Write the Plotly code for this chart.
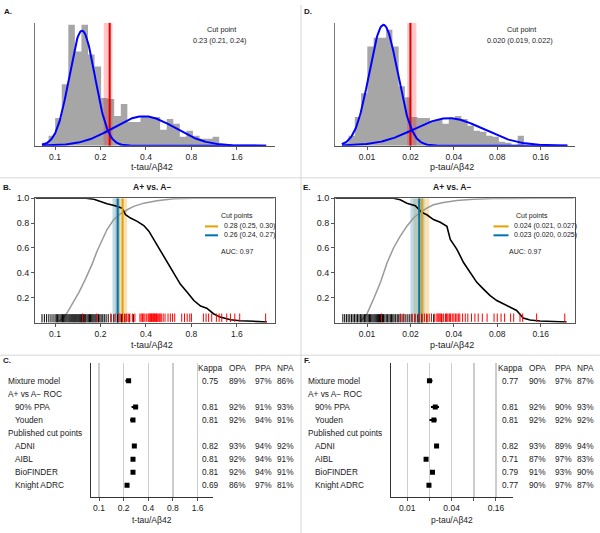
import numpy as np
import plotly.graph_objects as go

W, H = 600, 533
FONT = "Liberation Sans, Arial, sans-serif"
TXT = "#1a1a1a"

# ---------------- data ----------------
# Panel A: t-tau/Aβ42 histogram (bins of width 0.1 on natural-log scale)
A_BIN_START_LN = -2.5
A_BIN_WIDTH_LN = 0.1
A_COUNTS = [3, 10, 28, 62, 122, 95, 122, 92, 80, 48, 47, 30, 42, 24, 24, 29, 29, 29,
            16, 27, 22, 9, 15, 10, 7, 7, 9]
A_COMP_CENTER = [0.151, 0.387]
A_COMP_SDLN = [0.195, 0.47]
A_COMP_PEAK = [116, 29.7]
A_CUT = 0.23
A_CUT_CI = [0.21, 0.24]

# Panel D: p-tau/Aβ42 histogram
D_BIN_START_LN = -5.0
D_BIN_WIDTH_LN = 0.1
D_COUNTS = [3, 10, 29, 53, 100, 109, 109, 117, 100, 60, 49, 29, 28, 28, 25, 27, 22, 27,
            30, 27, 20, 15, 14, 10, 9, 4, 3, 1, 10]
D_COMP_CENTER = [0.0130, 0.0368]
D_COMP_SDLN = [0.225, 0.55]
D_COMP_PEAK = [122, 27.7]
D_CUT = 0.020
D_CUT_CI = [0.019, 0.022]

# Panel B: ROC-type curves for t-tau/Aβ42
B_SPEC_X = [0.106, 0.112, 0.121, 0.130, 0.144, 0.159, 0.176, 0.190, 0.205, 0.221, 0.245,
            0.271, 0.300, 0.332, 0.387, 0.473, 0.61, 0.83, 2.8]
B_SPEC_Y = [0.01, 0.03, 0.085, 0.15, 0.244, 0.35, 0.47, 0.576, 0.668, 0.748, 0.828,
            0.875, 0.907, 0.934, 0.96, 0.98, 0.995, 1.0, 1.0]
B_SENS_X = [0.0746, 0.16, 0.181, 0.2, 0.221, 0.25, 0.278, 0.293, 0.316, 0.35, 0.387, 0.418,
            0.45, 0.499, 0.553, 0.61, 0.675, 0.75, 0.83, 0.92, 1.01, 1.12, 1.24, 1.45,
            1.68, 2.07, 2.53]
B_SENS_Y = [1.0, 1.0, 0.992, 0.973, 0.955, 0.939, 0.92, 0.867, 0.84, 0.814, 0.78, 0.735,
            0.668, 0.576, 0.483, 0.39, 0.31, 0.244, 0.178, 0.133, 0.117, 0.072, 0.045,
            0.024, 0.016, 0.011, 0.005]
B_NEG_RUG = [0.082, 0.085, 0.088, 0.091, 0.094, 0.097, 0.1, 0.102, 0.104, 0.106, 0.108,
             0.11, 0.112, 0.114, 0.116, 0.118, 0.12, 0.122, 0.124, 0.126, 0.128, 0.13,
             0.132, 0.134, 0.136, 0.138, 0.14, 0.142, 0.144, 0.146, 0.148, 0.15, 0.152,
             0.154, 0.156, 0.158, 0.16, 0.163, 0.166, 0.169, 0.172, 0.175, 0.178, 0.181,
             0.184, 0.187, 0.19, 0.194, 0.198, 0.202, 0.207, 0.212, 0.218, 0.225, 0.235,
             0.245, 0.26, 0.275, 0.29, 0.31, 0.33]
B_POS_RUG = [0.152, 0.189, 0.234, 0.25, 0.265, 0.27, 0.28, 0.29, 0.298, 0.305, 0.313,
             0.325, 0.338, 0.365, 0.372, 0.38, 0.387, 0.394, 0.405, 0.414, 0.42, 0.425,
             0.43, 0.435, 0.44, 0.445, 0.45, 0.455, 0.46, 0.465, 0.47, 0.475, 0.482, 0.49,
             0.497, 0.505, 0.52, 0.535, 0.56, 0.58, 0.6, 0.62, 0.69, 0.72, 0.75, 0.78,
             0.8, 0.96, 1.0, 1.04, 1.09, 1.17, 1.22, 1.27, 1.37, 1.45, 1.55, 1.67, 2.48]
B_CUTS = [0.28, 0.26]
B_CUT_LO = [0.25, 0.24]
B_CUT_HI = [0.30, 0.27]
B_CUT_LABELS = ["0.28 (0.25, 0.30)", "0.26 (0.24, 0.27)"]

# Panel E: ROC-type curves for p-tau/Aβ42
E_SPEC_X = [0.009, 0.01, 0.0111, 0.0124, 0.0138, 0.0153, 0.017, 0.0189, 0.021, 0.0234,
            0.026, 0.0289, 0.0339, 0.042, 0.0548, 0.0752, 0.1426, 0.27]
E_SPEC_Y = [0.01, 0.072, 0.19, 0.324, 0.483, 0.602, 0.695, 0.775, 0.841, 0.886, 0.92,
            0.947, 0.966, 0.981, 0.992, 0.997, 1.0, 1.0]
E_SENS_X = [0.00604, 0.0153, 0.017, 0.0189, 0.0216, 0.024, 0.026, 0.0289, 0.0322, 0.0358,
            0.0378, 0.042, 0.0467, 0.0519, 0.0577, 0.0642, 0.0714, 0.0794, 0.0883, 0.0982,
            0.109, 0.121, 0.135, 0.158, 0.242]
E_SENS_Y = [1.0, 1.0, 0.987, 0.96, 0.939, 0.886, 0.867, 0.828, 0.806, 0.775, 0.668, 0.589,
            0.483, 0.403, 0.324, 0.27, 0.218, 0.178, 0.151, 0.125, 0.098, 0.037, 0.021,
            0.013, 0.005]
E_NEG_RUG = [0.0068, 0.007, 0.0072, 0.0074, 0.0076, 0.0078, 0.008, 0.0082, 0.0084,
             0.0086, 0.0088, 0.009, 0.0092, 0.0094, 0.0096, 0.0098, 0.01, 0.0102, 0.0104,
             0.0106, 0.0108, 0.011, 0.0112, 0.0114, 0.0116, 0.0118, 0.012, 0.0122, 0.0124,
             0.0126, 0.0128, 0.013, 0.0133, 0.0136, 0.0139, 0.0142, 0.0145, 0.0148,
             0.0151, 0.0154, 0.0158, 0.0162, 0.0166, 0.017, 0.0175, 0.018, 0.0186,
             0.0192, 0.0198, 0.0205, 0.0215, 0.0225, 0.024, 0.026, 0.029, 0.033]
E_POS_RUG = [0.0126, 0.017, 0.018, 0.0205, 0.0215, 0.023, 0.024, 0.025, 0.026, 0.027,
             0.028, 0.0295, 0.0305, 0.031, 0.0315, 0.032, 0.0325, 0.033, 0.034, 0.035,
             0.0355, 0.036, 0.037, 0.0375, 0.038, 0.039, 0.040, 0.041, 0.042, 0.043,
             0.044, 0.046, 0.048, 0.050, 0.053, 0.056, 0.059, 0.063, 0.068, 0.076, 0.08,
             0.085, 0.09, 0.099, 0.104, 0.115, 0.12, 0.15, 0.235]
E_CUTS = [0.024, 0.023]
E_CUT_LO = [0.021, 0.020]
E_CUT_HI = [0.027, 0.025]
E_CUT_LABELS = ["0.024 (0.021, 0.027)", "0.023 (0.020, 0.025)"]
AUC_TEXT = "AUC: 0.97"

# Panels C/F: forest plots and agreement tables
ROW_LABELS = ["Mixture model", "A+ vs A\u2212 ROC", "90% PPA", "Youden",
              "Published cut points", "ADNI", "AIBL", "BioFINDER", "Knight ADRC"]
ROW_INDENT = [0, 0, 1, 1, 0, 1, 1, 1, 1]
TABLE_HEAD = ["Kappa", "OPA", "PPA", "NPA"]

C_EST = [0.23, None, 0.28, 0.26, None, 0.27, 0.26, 0.26, 0.22]
C_LO = [0.21, None, 0.25, 0.24, None, None, None, None, None]
C_HI = [0.24, None, 0.30, 0.27, None, None, None, None, None]
C_TABLE = [["0.75", "89%", "97%", "86%"], None, ["0.81", "92%", "91%", "93%"],
           ["0.81", "92%", "94%", "91%"], None, ["0.82", "93%", "94%", "92%"],
           ["0.81", "92%", "94%", "91%"], ["0.81", "92%", "94%", "91%"],
           ["0.69", "86%", "97%", "81%"]]

F_EST = [0.020, None, 0.024, 0.023, None, 0.025, 0.018, 0.022, 0.0197]
F_LO = [0.019, None, 0.021, 0.020, None, None, None, None, None]
F_HI = [0.022, None, 0.027, 0.025, None, None, None, None, None]
F_TABLE = [["0.77", "90%", "97%", "87%"], None, ["0.81", "92%", "90%", "93%"],
           ["0.81", "92%", "92%", "92%"], None, ["0.82", "93%", "89%", "94%"],
           ["0.71", "87%", "97%", "83%"], ["0.79", "91%", "93%", "90%"],
           ["0.77", "90%", "97%", "87%"]]

T_TICKS = [0.1, 0.2, 0.4, 0.8, 1.6]
T_TICKTEXT = ["0.1", "0.2", "0.4", "0.8", "1.6"]
P_TICKS = [0.01, 0.02, 0.04, 0.08, 0.16]
P_TICKTEXT = ["0.01", "0.02", "0.04", "0.08", "0.16"]
P_TICKTEXT_F = ["0.01", "", "0.04", "", "0.16"]
ROC_YTICKS = [0.2, 0.4, 0.6, 0.8, 1.0]
ROC_YTEXT = ["0.2", "0.4", "0.6", "0.8", "1.0"]

# ---------------- helpers ----------------
def xd(a, b):
    return [a / W, b / W]

def yd(top, bottom):
    return [1 - bottom / H, 1 - top / H]

def px(x):
    return x / W

def py(y):
    return 1 - y / H

ORANGE = "#E69F00"
BLUE = "#0072B2"
ORANGE_BAND = "rgba(230,159,0,0.28)"
BLUE_BAND = "rgba(0,114,178,0.25)"
HIST_GRAY = "#a6a6a6"

fig = go.Figure()
annotations = []
shapes = []

def ann(text, x, y, size=8, anchor="center", bold=False, color=TXT):
    if bold:
        text = "<b>" + text + "</b>"
    annotations.append(dict(text=text, x=px(x), y=py(y), xref="paper", yref="paper",
                            xanchor=anchor, yanchor="middle", showarrow=False,
                            font=dict(family=FONT, size=size, color=color)))

def hist_panel(xa, ya, start_ln, width_ln, counts, centers, sds, peaks, cut, ci, ymax, xlo, xhi):
    edges = np.exp(start_ln + width_ln * np.arange(len(counts) + 1))
    ys = list(counts) + [counts[-1]]
    fig.add_trace(go.Scatter(x=edges, y=ys, mode="lines", line=dict(width=0, shape="hv"),
                             fill="tozeroy", fillcolor=HIST_GRAY, xaxis=xa, yaxis=ya,
                             hoverinfo="skip"))
    fig.add_trace(go.Scatter(x=[ci[0], ci[1], ci[1], ci[0], ci[0]],
                             y=[0, 0, ymax, ymax, 0], mode="lines", fill="toself",
                             fillcolor="rgba(255,0,0,0.22)", line=dict(width=0),
                             xaxis=xa, yaxis=ya, hoverinfo="skip"))
    fig.add_trace(go.Scatter(x=[cut, cut], y=[0, ymax], mode="lines",
                             line=dict(color="#e00000", width=2), xaxis=xa, yaxis=ya))
    xs = np.exp(np.linspace(np.log(xlo), np.log(xhi), 300))
    for c, s, p in zip(centers, sds, peaks):
        yv = p * np.exp(-(np.log(xs) - np.log(c)) ** 2 / (2 * s ** 2))
        fig.add_trace(go.Scatter(x=xs, y=yv, mode="lines",
                                 line=dict(color="#0000ff", width=2),
                                 xaxis=xa, yaxis=ya, hoverinfo="skip"))

def roc_panel(xa, ya, spec_x, spec_y, sens_x, sens_y, neg, pos, cuts, lo, hi):
    for c, l, h, bc in zip(cuts, lo, hi, [ORANGE_BAND, BLUE_BAND]):
        fig.add_trace(go.Scatter(x=[l, h, h, l, l], y=[0, 0, 1, 1, 0], mode="lines",
                                 fill="toself", fillcolor=bc, line=dict(width=0),
                                 xaxis=xa, yaxis=ya, hoverinfo="skip"))
    fig.add_trace(go.Scatter(x=spec_x, y=spec_y, mode="lines",
                             line=dict(color="#9a9a9a", width=1.5), xaxis=xa, yaxis=ya))
    fig.add_trace(go.Scatter(x=sens_x, y=sens_y, mode="lines",
                             line=dict(color="#000000", width=1.6), xaxis=xa, yaxis=ya))
    for c, lc in zip(cuts, [ORANGE, BLUE]):
        fig.add_trace(go.Scatter(x=[c, c], y=[0, 1], mode="lines",
                                 line=dict(color=lc, width=2), xaxis=xa, yaxis=ya))
    fig.add_trace(go.Scatter(x=neg, y=[0.035] * len(neg), mode="markers",
                             marker=dict(symbol="line-ns", size=6,
                                         line=dict(width=1, color="#000000")),
                             xaxis=xa, yaxis=ya))
    fig.add_trace(go.Scatter(x=pos, y=[0.04] * len(pos), mode="markers",
                             marker=dict(symbol="line-ns", size=6,
                                         line=dict(width=1, color="#ff0000")),
                             xaxis=xa, yaxis=ya))

def forest_panel(xa, ya, est, lo, hi):
    rows, xs, ep, em = [], [], [], []
    for i, e in enumerate(est):
        if e is None:
            continue
        rows.append(i)
        xs.append(e)
        ep.append((hi[i] - e) if hi[i] is not None else 0)
        em.append((e - lo[i]) if lo[i] is not None else 0)
    fig.add_trace(go.Scatter(x=xs, y=rows, mode="markers",
                             marker=dict(symbol="square", size=5, color="#000000"),
                             error_x=dict(type="data", array=ep, arrayminus=em,
                                          color="#000000", thickness=2, width=0),
                             xaxis=xa, yaxis=ya))

# ---------------- panels ----------------
hist_panel("x", "y", A_BIN_START_LN, A_BIN_WIDTH_LN, A_COUNTS, A_COMP_CENTER,
           A_COMP_SDLN, A_COMP_PEAK, A_CUT, A_CUT_CI, 124, 0.082, 2.5)
hist_panel("x4", "y4", D_BIN_START_LN, D_BIN_WIDTH_LN, D_COUNTS, D_COMP_CENTER,
           D_COMP_SDLN, D_COMP_PEAK, D_CUT, D_CUT_CI, 124, 0.0067, 0.245)
roc_panel("x2", "y2", B_SPEC_X, B_SPEC_Y, B_SENS_X, B_SENS_Y, B_NEG_RUG, B_POS_RUG,
          B_CUTS, B_CUT_LO, B_CUT_HI)
roc_panel("x5", "y5", E_SPEC_X, E_SPEC_Y, E_SENS_X, E_SENS_Y, E_NEG_RUG, E_POS_RUG,
          E_CUTS, E_CUT_LO, E_CUT_HI)
forest_panel("x3", "y3", C_EST, C_LO, C_HI)
forest_panel("x6", "y6", F_EST, F_LO, F_HI)

tickfont = dict(family=FONT, size=8.5, color=TXT)
AX_LINE = "#555555"

def logrange(a, b):
    return [np.log10(a), np.log10(b)]

ROW0_Y = 379.3
ROW_DY = 13.2
FOREST_TOP, FOREST_BOT = 361, 496.7
forest_yrange = [(FOREST_BOT - ROW0_Y) / ROW_DY, (FOREST_TOP - ROW0_Y) / ROW_DY]

layout = dict(
    width=W, height=H, margin=dict(l=0, r=0, t=0, b=0), autosize=False,
    paper_bgcolor="white", plot_bgcolor="rgba(0,0,0,0)", showlegend=False,
    font=dict(family=FONT, color=TXT), hovermode=False,
    xaxis=dict(domain=xd(35, 275), anchor="y", type="log", range=logrange(0.0737, 2.86),
               tickvals=T_TICKS, ticktext=T_TICKTEXT, ticks="outside", ticklen=3,
               tickcolor=AX_LINE, showline=True, linecolor=AX_LINE, linewidth=1,
               showgrid=False, zeroline=False, tickfont=tickfont),
    yaxis=dict(domain=yd(18, 142), anchor="x", range=[0, 124], showticklabels=False,
               ticks="", showline=True, linecolor="#777777", linewidth=1, showgrid=False,
               zeroline=False),
    xaxis2=dict(domain=xd(35, 275), anchor="y2", type="log", range=logrange(0.0737, 2.86),
                tickvals=T_TICKS, ticktext=T_TICKTEXT, ticks="outside", ticklen=3,
                tickcolor=AX_LINE, showline=True, mirror=True, linecolor=AX_LINE,
                linewidth=1, showgrid=False, zeroline=False, tickfont=tickfont),
    yaxis2=dict(domain=yd(195, 320.7), anchor="x2", range=[0, 1], tickvals=ROC_YTICKS,
                ticktext=ROC_YTEXT, ticks="outside", ticklen=3, tickcolor=AX_LINE,
                showline=True, mirror=True, linecolor=AX_LINE, linewidth=1,
                showgrid=False, zeroline=False, tickfont=dict(family=FONT, size=9, color=TXT)),
    xaxis3=dict(domain=xd(91, 213.3), anchor="y3", type="log", range=logrange(0.0798, 2.49),
                tickvals=T_TICKS, ticktext=T_TICKTEXT, ticks="outside", ticklen=3,
                tickcolor=AX_LINE, showline=True, linecolor="#333333", linewidth=1,
                showgrid=True, gridcolor="#cccccc", gridwidth=1.5, zeroline=False,
                tickfont=tickfont),
    yaxis3=dict(domain=yd(FOREST_TOP, FOREST_BOT), anchor="x3", range=forest_yrange,
                showticklabels=False, ticks="", showline=True, linecolor="#333333",
                linewidth=1, showgrid=False, zeroline=False),
    xaxis4=dict(domain=xd(335, 575), anchor="y4", type="log", range=logrange(0.0060, 0.2767),
                tickvals=P_TICKS, ticktext=P_TICKTEXT, ticks="outside", ticklen=3,
                tickcolor=AX_LINE, showline=True, linecolor=AX_LINE, linewidth=1,
                showgrid=False, zeroline=False, tickfont=tickfont),
    yaxis4=dict(domain=yd(18, 142), anchor="x4", range=[0, 124], showticklabels=False,
                ticks="", showline=True, linecolor="#777777", linewidth=1, showgrid=False,
                zeroline=False),
    xaxis5=dict(domain=xd(335, 575), anchor="y5", type="log", range=logrange(0.0060, 0.2767),
                tickvals=P_TICKS, ticktext=P_TICKTEXT, ticks="outside", ticklen=3,
                tickcolor=AX_LINE, showline=True, mirror=True, linecolor=AX_LINE,
                linewidth=1, showgrid=False, zeroline=False, tickfont=tickfont),
    yaxis5=dict(domain=yd(195, 320.7), anchor="x5", range=[0, 1], tickvals=ROC_YTICKS,
                ticktext=ROC_YTEXT, ticks="outside", ticklen=3, tickcolor=AX_LINE,
                showline=True, mirror=True, linecolor=AX_LINE, linewidth=1,
                showgrid=False, zeroline=False, tickfont=dict(family=FONT, size=9, color=TXT)),
    xaxis6=dict(domain=xd(390.7, 513.3), anchor="y6", type="log", range=logrange(0.00596, 0.275),
                tickvals=P_TICKS, ticktext=P_TICKTEXT_F, ticks="outside", ticklen=3,
                tickcolor=AX_LINE, showline=True, linecolor="#333333", linewidth=1,
                showgrid=True, gridcolor="#cccccc", gridwidth=1.5, zeroline=False,
                tickfont=tickfont),
    yaxis6=dict(domain=yd(FOREST_TOP, FOREST_BOT), anchor="x6", range=forest_yrange,
                showticklabels=False, ticks="", showline=True, linecolor="#333333",
                linewidth=1, showgrid=False, zeroline=False),
)

# ---------------- text ----------------
for off, letters in [(0, ["A.", "B.", "C."]), (300, ["D.", "E.", "F."])]:
    ann(letters[0], off + 8, 7, size=8, bold=True)
    ann(letters[1], off + 7, 184, size=8, bold=True)
    ann(letters[2], off + 7, 359, size=8, bold=True)

ann("Cut point", 221.7, 25, size=7.3)
ann("0.23 (0.21, 0.24)", 220, 36, size=7.3)
ann("t-tau/A\u03b242", 152, 164, size=9)
ann("Cut point", 521.7, 25, size=7.3)
ann("0.020 (0.019, 0.022)", 520, 36, size=7.3)
ann("p-tau/A\u03b242", 452, 164, size=9)

ann("A+ vs. A\u2212", 152, 183.5, size=8.5, bold=True)
ann("A+ vs. A\u2212", 452, 183.5, size=8.5, bold=True)
ann("t-tau/A\u03b242", 152, 343, size=9)
ann("p-tau/A\u03b242", 452, 343, size=9)

ann("Cut points", 236.7, 213.5, size=7)
ann("Cut points", 531.7, 213.5, size=7)
for i, (lab_b, lab_e, col) in enumerate(zip(B_CUT_LABELS, E_CUT_LABELS, [ORANGE, BLUE])):
    yy = 223.5 + 9 * i
    shapes.append(dict(type="line", xref="paper", yref="paper", x0=px(205), x1=px(218),
                       y0=py(yy), y1=py(yy), line=dict(color=col, width=2)))
    ann(lab_b, 221.5, yy, size=7, anchor="left")
    shapes.append(dict(type="line", xref="paper", yref="paper", x0=px(493.5), x1=px(508.5),
                       y0=py(yy), y1=py(yy), line=dict(color=col, width=2)))
    ann(lab_e, 511.5, yy, size=7, anchor="left")
ann(AUC_TEXT, 236.7, 249, size=7)
ann(AUC_TEXT, 525, 249, size=7)

COLS = [210, 237.3, 263.3, 285.7]
for off, table in [(0, C_TABLE), (300, F_TABLE)]:
    for j, h in enumerate(TABLE_HEAD):
        ann(h, off + COLS[j], 366, size=8.3)
    for i, lab in enumerate(ROW_LABELS):
        yy = ROW0_Y + ROW_DY * i
        ann(lab, off + (12.7 if ROW_INDENT[i] else 6), yy, size=8.3, anchor="left")
        if table[i] is not None:
            for j, v in enumerate(table[i]):
                ann(v, off + COLS[j], yy, size=8.3)
ann("t-tau/A\u03b242", 152, 519.5, size=8.5)
ann("p-tau/A\u03b242", 452, 519.5, size=8.5)

SEP = "#d6d6d6"
shapes.append(dict(type="line", xref="paper", yref="paper", x0=px(301), x1=px(301),
                   y0=0, y1=1, line=dict(color=SEP, width=1)))
for yy in [174.5, 353.5]:
    shapes.append(dict(type="line", xref="paper", yref="paper", x0=0, x1=1,
                       y0=py(yy), y1=py(yy), line=dict(color=SEP, width=1)))

layout["annotations"] = annotations
layout["shapes"] = shapes
fig.update_layout(**layout)
fig.write_html("out.html",
               config={"displayModeBar": False, "staticPlot": True},
               post_script="document.body.style.margin='0';document.body.style.padding='0';")
